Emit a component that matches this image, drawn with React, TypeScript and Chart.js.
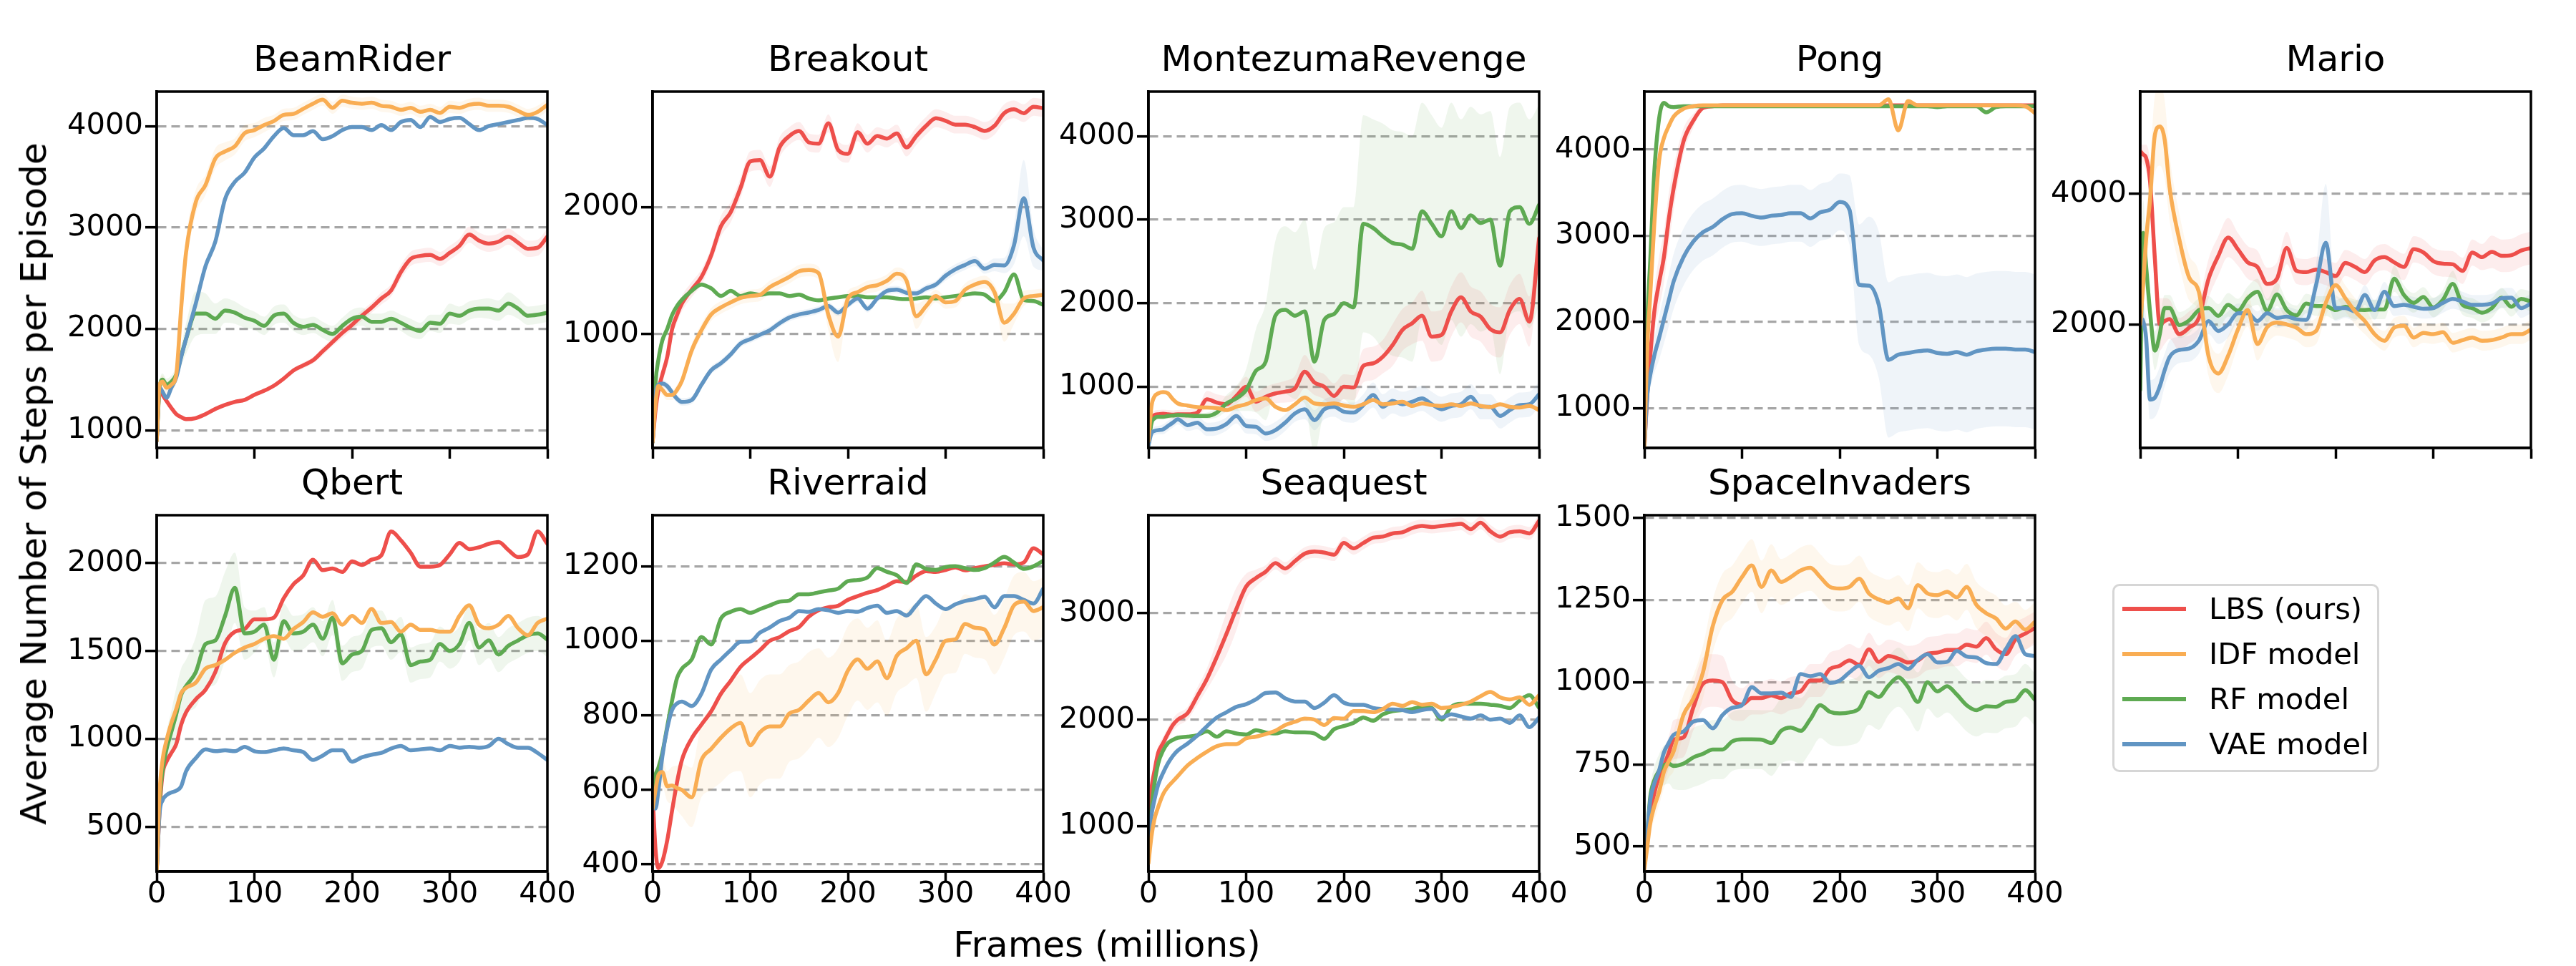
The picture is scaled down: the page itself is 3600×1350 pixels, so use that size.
import React, { useEffect, useRef } from 'react';
import { Chart, registerables } from 'chart.js';

Chart.register(...registerables);

const FONT = '"DejaVu Sans", "Liberation Sans", sans-serif';

// x positions (frames, millions)
const FRAMES = [0, 3, 6, 10, 15, 20, 25, 30,
  40, 50, 60, 70, 80, 90, 100, 110, 120, 130,
  140, 150, 160, 170, 180, 190, 200, 210, 220, 230,
  240, 250, 260, 270, 280, 290, 300, 310, 320, 330,
  340, 350, 360, 370, 380, 390, 400];
const X_TICKS = [0, 100, 200, 300, 400];

const SERIES_NAMES = ['LBS (ours)', 'IDF model', 'RF model', 'VAE model'];
const SERIES_COLORS = ['#ee4f4b', '#f9ad53', '#5eaa52', '#6195c3'];
const BAND_COLORS = ['rgba(238,79,75,0.1)', 'rgba(249,173,83,0.1)', 'rgba(94,170,82,0.1)', 'rgba(97,149,195,0.1)'];
// drawing order (0 = on top)
const SERIES_ORDER = [3, 0, 2, 1];

// ---------------- BeamRider ----------------
const beamRiderTicks = [1000, 2000, 3000, 4000];
const beamRiderLBS = [900, 1400, 1350, 1290, 1220, 1160, 1130, 1110,
  1120, 1160, 1210, 1250, 1280, 1300, 1350, 1390, 1440, 1510,
  1590, 1640, 1690, 1780, 1870, 1960, 2040, 2130, 2210, 2300,
  2380, 2560, 2690, 2720, 2730, 2690, 2750, 2820, 2930, 2870,
  2840, 2860, 2910, 2850, 2790, 2800, 2910];
const beamRiderIDF = [900, 1450, 1480, 1420, 1450, 1550, 2200, 2750,
  3250, 3420, 3680, 3750, 3800, 3930, 3960, 4010, 4050, 4110,
  4120, 4170, 4220, 4260, 4180, 4250, 4230, 4220, 4230, 4200,
  4190, 4160, 4180, 4140, 4160, 4130, 4190, 4180, 4210, 4220,
  4200, 4200, 4190, 4150, 4110, 4140, 4210];
const beamRiderRF = [900, 1420, 1500, 1450, 1480, 1550, 1730, 1900,
  2150, 2150, 2100, 2180, 2160, 2110, 2080, 2030, 2130, 2150,
  2060, 2020, 2040, 1990, 1950, 2030, 2100, 2120, 2070, 2070,
  2100, 2060, 2010, 1980, 2060, 2050, 2150, 2130, 2180, 2200,
  2200, 2180, 2250, 2200, 2130, 2140, 2160];
const beamRiderVAE = [900, 1420, 1380, 1320, 1420, 1520, 1720, 1900,
  2250, 2620, 2860, 3280, 3450, 3540, 3690, 3780, 3900, 3980,
  3910, 3910, 3950, 3870, 3900, 3960, 3990, 3990, 3960, 4010,
  3960, 4040, 4060, 3990, 4090, 4040, 4070, 4080, 4020, 3960,
  4000, 4020, 4040, 4060, 4080, 4070, 4010];
const beamRiderLBSsd = [0, 20, 20, 20, 20, 20, 20, 20,
  20, 20, 20, 20, 20, 20, 20, 20, 20, 20,
  20, 30, 30, 40, 40, 50, 50, 50, 50, 60,
  60, 70, 70, 70, 70, 70, 70, 70, 80, 80,
  80, 80, 80, 80, 80, 80, 80];
const beamRiderIDFsd = [0, 40, 60, 60, 60, 80, 150, 150,
  120, 100, 100, 90, 80, 80, 70, 70, 60, 60,
  60, 60, 60, 60, 60, 60, 60, 60, 60, 60,
  60, 60, 60, 60, 60, 60, 60, 60, 60, 60,
  60, 60, 60, 60, 60, 60, 60];
const beamRiderRFsd = [0, 40, 60, 60, 60, 80, 100, 150,
  220, 200, 150, 120, 110, 100, 90, 90, 90, 90,
  80, 80, 80, 80, 80, 80, 90, 90, 80, 80,
  80, 80, 90, 80, 80, 90, 100, 90, 90, 90,
  100, 100, 110, 100, 90, 90, 90];

// ---------------- Breakout ----------------
const breakoutTicks = [1000, 2000];
const breakoutLBS = [150, 400, 560, 680, 820, 1040, 1150, 1240,
  1350, 1450, 1620, 1850, 1960, 2150, 2360, 2370, 2240, 2470,
  2560, 2600, 2510, 2500, 2660, 2450, 2420, 2590, 2500, 2560,
  2540, 2580, 2470, 2560, 2640, 2700, 2680, 2650, 2650, 2630,
  2600, 2640, 2740, 2770, 2740, 2790, 2780];
const breakoutIDF = [150, 450, 590, 560, 520, 520, 560, 630,
  870, 1030, 1155, 1210, 1250, 1285, 1300, 1310, 1370, 1410,
  1450, 1495, 1505, 1480, 1150, 980, 1280, 1330, 1370, 1385,
  1420, 1475, 1420, 1140, 1220, 1300, 1250, 1260, 1350, 1390,
  1410, 1330, 1090, 1160, 1280, 1300, 1310];
const breakoutRF = [150, 620, 800, 950, 1040, 1150, 1220, 1270,
  1340, 1390, 1360, 1300, 1340, 1300, 1320, 1310, 1320, 1320,
  1300, 1310, 1280, 1265, 1280, 1290, 1300, 1300, 1290, 1290,
  1290, 1280, 1275, 1280, 1290, 1280, 1290, 1300, 1310, 1320,
  1310, 1260, 1330, 1470, 1270, 1260, 1230];
const breakoutVAE = [150, 520, 600, 610, 590, 540, 490, 465,
  480, 600, 715, 770, 840, 925, 960, 995, 1030, 1085,
  1130, 1155, 1170, 1190, 1220, 1170, 1230, 1280, 1200, 1280,
  1340, 1350, 1325, 1320, 1360, 1390, 1460, 1510, 1545, 1575,
  1515, 1545, 1540, 1700, 2070, 1680, 1580];
const breakoutLBSsd = [0, 40, 50, 60, 60, 60, 60, 60,
  60, 60, 60, 80, 80, 80, 80, 80, 80, 80,
  70, 70, 70, 70, 70, 70, 70, 70, 70, 70,
  70, 70, 70, 70, 70, 70, 70, 70, 70, 70,
  70, 70, 70, 70, 70, 70, 70];
const breakoutIDFsd = [0, 30, 40, 40, 40, 40, 40, 40,
  50, 50, 50, 50, 50, 50, 50, 50, 50, 50,
  50, 50, 50, 50, 120, 200, 60, 50, 50, 50,
  50, 50, 60, 100, 60, 50, 50, 50, 50, 50,
  50, 60, 150, 80, 60, 50, 50];
const breakoutVAEsd = [0, 30, 30, 30, 30, 30, 30, 30,
  30, 30, 30, 30, 30, 30, 30, 30, 30, 30,
  30, 30, 30, 30, 30, 30, 30, 30, 30, 30,
  30, 30, 30, 30, 30, 30, 40, 40, 40, 40,
  40, 50, 60, 150, 300, 150, 80];

// ---------------- MontezumaRevenge ----------------
const montezumaTicks = [1000, 2000, 3000, 4000];
const montezumaLBS = [300, 600, 660, 670, 675, 670, 665, 670,
  670, 690, 850, 810, 790, 890, 1000, 820, 880, 920,
  940, 980, 1180, 1050, 1000, 890, 1000, 990, 1250, 1280,
  1360, 1500, 1680, 1760, 1850, 1600, 1620, 1900, 2070, 1900,
  1840, 1690, 1650, 1920, 2050, 1780, 2780];
const montezumaIDF = [350, 760, 880, 920, 935, 920, 850, 800,
  775, 755, 750, 745, 720, 760, 790, 840, 860, 760,
  720, 790, 870, 800, 790, 800, 775, 760, 790, 840,
  790, 800, 820, 770, 800, 780, 770, 790, 770, 800,
  770, 755, 790, 760, 750, 770, 720];
const montezumaRF = [300, 560, 620, 640, 640, 650, 655, 660,
  655, 650, 650, 690, 800, 860, 960, 1190, 1300, 1850,
  1920, 1850, 1900, 1300, 1800, 1870, 2000, 1950, 2950, 2900,
  2800, 2720, 2700, 2650, 3100, 2950, 2800, 3100, 2900, 3050,
  2960, 3000, 2450, 3100, 3150, 2950, 3180];
const montezumaVAE = [300, 440, 470, 480, 490, 530, 570, 610,
  540, 570, 490, 500, 555, 650, 530, 520, 440, 480,
  570, 680, 730, 600, 730, 760, 700, 690, 780, 900,
  760, 830, 790, 820, 860, 790, 730, 770, 790, 880,
  760, 760, 650, 720, 780, 790, 910];
const montezumaLBSsd = [0, 40, 50, 50, 50, 50, 50, 50,
  60, 60, 100, 100, 100, 100, 120, 120, 120, 120,
  130, 150, 200, 150, 150, 150, 150, 150, 200, 200,
  200, 250, 250, 250, 300, 300, 300, 300, 300, 300,
  300, 300, 300, 300, 300, 300, 300];
const montezumaRFsd = [0, 20, 30, 30, 30, 30, 30, 30,
  30, 30, 40, 60, 100, 150, 250, 500, 700, 900,
  1000, 1000, 1100, 1100, 1100, 1100, 1150, 1200, 1300, 1300,
  1350, 1350, 1350, 1350, 1300, 1300, 1300, 1300, 1300, 1300,
  1300, 1300, 1300, 1250, 1250, 1250, 1200];
const montezumaVAEsd = [0, 40, 50, 50, 60, 60, 60, 60,
  70, 80, 80, 80, 80, 90, 90, 90, 90, 100,
  100, 100, 120, 120, 120, 120, 120, 120, 130, 150,
  150, 150, 150, 150, 150, 150, 150, 150, 150, 150,
  150, 150, 150, 150, 150, 150, 150];

// ---------------- Pong ----------------
const pongTicks = [1000, 2000, 3000, 4000];
const pongLBS = [540, 1150, 1600, 2100, 2450, 2750, 3190, 3550,
  4090, 4330, 4480, 4500, 4510, 4510, 4510, 4510, 4510, 4510,
  4510, 4510, 4510, 4510, 4510, 4510, 4510, 4510, 4510, 4510,
  4510, 4510, 4510, 4510, 4510, 4510, 4510, 4510, 4510, 4510,
  4510, 4510, 4510, 4510, 4510, 4510, 4510];
const pongIDF = [540, 1700, 2300, 3100, 3860, 4130, 4270, 4380,
  4470, 4500, 4510, 4510, 4510, 4510, 4510, 4510, 4510, 4510,
  4510, 4510, 4510, 4510, 4510, 4510, 4510, 4510, 4510, 4510,
  4510, 4580, 4220, 4560, 4510, 4510, 4510, 4510, 4510, 4510,
  4510, 4510, 4510, 4510, 4510, 4500, 4420];
const pongRF = [540, 2000, 2700, 3700, 4350, 4540, 4500, 4490,
  4500, 4500, 4500, 4500, 4500, 4500, 4500, 4500, 4500, 4500,
  4500, 4500, 4500, 4500, 4500, 4500, 4500, 4500, 4500, 4500,
  4500, 4500, 4500, 4500, 4500, 4500, 4490, 4500, 4500, 4500,
  4500, 4430, 4490, 4500, 4500, 4500, 4500];
const pongVAE = [540, 1150, 1380, 1600, 1810, 2030, 2250, 2470,
  2750, 2930, 3040, 3100, 3190, 3250, 3260, 3230, 3210, 3230,
  3240, 3260, 3260, 3200, 3270, 3300, 3390, 3300, 2430, 2420,
  2200, 1560, 1620, 1640, 1660, 1670, 1640, 1630, 1650, 1620,
  1660, 1680, 1690, 1690, 1680, 1680, 1650];
const pongLBSsd = [0, 100, 200, 250, 300, 300, 300, 250,
  150, 80, 30, 20, 20, 20, 20, 20, 20, 20,
  20, 20, 20, 20, 20, 20, 20, 20, 20, 20,
  20, 20, 20, 20, 20, 20, 20, 20, 20, 20,
  20, 20, 20, 20, 20, 20, 20];
const pongVAEsd = [0, 100, 150, 200, 250, 280, 300, 320,
  330, 330, 330, 330, 330, 330, 330, 330, 330, 330,
  330, 330, 330, 330, 330, 330, 330, 400, 700, 800,
  850, 900, 900, 900, 900, 900, 900, 900, 900, 900,
  900, 900, 900, 900, 900, 900, 900];

// ---------------- Mario ----------------
const marioTicks = [2000, 4000];
const marioLBS = [4650, 4600, 4550, 4200, 3000, 2000, 2050, 2080,
  1850, 1950, 2100, 2700, 3050, 3330, 3150, 2950, 2880, 2620,
  2700, 3170, 2820, 2800, 2840, 2800, 2740, 2940, 2880, 2800,
  2980, 3030, 2950, 2880, 3150, 3100, 2970, 2930, 2920, 2820,
  3100, 3030, 3110, 3050, 3060, 3130, 3170];
const marioIDF = [2000, 2600, 3300, 3900, 4900, 5030, 4830, 4100,
  3300, 2720, 2500, 1510, 1250, 1520, 1920, 2220, 1700, 1960,
  2030, 2000, 1950, 1850, 1900, 2330, 2600, 2400, 2200, 2050,
  1850, 1750, 1950, 1980, 1800, 1870, 1850, 1880, 1720, 1760,
  1800, 1750, 1760, 1800, 1850, 1850, 1920];
const marioRF = [1000, 3400, 2900, 2200, 1600, 1850, 2250, 2250,
  1990, 2060, 2220, 2250, 2130, 2300, 2210, 2400, 2500, 2210,
  2460, 2220, 2140, 2320, 2280, 2280, 2220, 2270, 2230, 2220,
  2230, 2230, 2700, 2450, 2330, 2420, 2260, 2380, 2620, 2300,
  2250, 2180, 2250, 2410, 2270, 2390, 2350];
const marioVAE = [2100, 2050, 1800, 850, 880, 1050, 1300, 1500,
  1610, 1630, 1750, 2050, 1900, 2000, 2170, 2170, 2050, 2170,
  2100, 2120, 2080, 2070, 2600, 3250, 2250, 2250, 2200, 2450,
  2220, 2500, 2280, 2300, 2270, 2240, 2250, 2330, 2390, 2350,
  2300, 2300, 2320, 2400, 2410, 2250, 2320];
const marioLBSsd = [100, 150, 200, 300, 400, 400, 350, 300,
  250, 250, 250, 300, 300, 300, 250, 250, 250, 250,
  250, 250, 200, 200, 200, 200, 200, 200, 200, 200,
  200, 200, 200, 200, 200, 200, 200, 200, 200, 200,
  200, 200, 250, 250, 250, 250, 250];
const marioIDFsd = [200, 300, 400, 500, 600, 600, 600, 500,
  400, 350, 300, 300, 300, 300, 250, 250, 250, 250,
  200, 200, 200, 200, 200, 200, 200, 200, 200, 200,
  150, 150, 150, 150, 150, 150, 150, 150, 150, 150,
  150, 150, 150, 150, 150, 150, 150];
const marioRFsd = [200, 500, 400, 300, 300, 250, 200, 200,
  200, 200, 180, 180, 180, 180, 180, 180, 200, 180,
  180, 150, 150, 150, 150, 150, 150, 150, 150, 150,
  150, 150, 200, 150, 150, 150, 150, 150, 200, 150,
  150, 150, 150, 150, 150, 150, 150];
const marioVAEsd = [200, 300, 300, 300, 300, 300, 250, 250,
  200, 200, 200, 200, 200, 200, 150, 150, 150, 150,
  150, 150, 150, 150, 300, 900, 200, 150, 150, 150,
  150, 150, 150, 150, 150, 150, 150, 150, 150, 150,
  150, 150, 150, 150, 150, 150, 150];

// ---------------- Qbert ----------------
const qbertTicks = [500, 1000, 1500, 2000];
const qbertLBS = [250, 600, 800, 870, 920, 970, 1080, 1150,
  1225, 1280, 1380, 1545, 1610, 1625, 1680, 1680, 1690, 1800,
  1880, 1930, 2020, 1960, 1970, 1950, 2010, 1990, 2020, 2045,
  2180, 2130, 2060, 1980, 1980, 1990, 2050, 2115, 2080, 2090,
  2110, 2120, 2075, 2035, 2050, 2180, 2110];
const qbertIDF = [250, 700, 880, 990, 1090, 1170, 1260, 1290,
  1320, 1400, 1420, 1450, 1490, 1520, 1540, 1570, 1585, 1570,
  1625, 1665, 1720, 1695, 1715, 1650, 1700, 1660, 1740, 1660,
  1665, 1610, 1650, 1620, 1620, 1610, 1610, 1700, 1760, 1650,
  1630, 1650, 1700, 1630, 1590, 1660, 1685];
const qbertRF = [250, 650, 820, 940, 1040, 1140, 1250, 1300,
  1380, 1540, 1560, 1700, 1860, 1600, 1610, 1650, 1450, 1670,
  1600, 1610, 1650, 1570, 1690, 1430, 1480, 1500, 1620, 1630,
  1550, 1595, 1420, 1440, 1450, 1540, 1500, 1540, 1660, 1520,
  1560, 1480, 1530, 1560, 1590, 1600, 1565];
const qbertVAE = [250, 580, 650, 680, 695, 705, 730, 815,
  890, 940, 930, 935, 930, 955, 930, 925, 935, 945,
  935, 925, 880, 905, 935, 935, 870, 895, 910, 920,
  945, 960, 935, 940, 945, 935, 960, 950, 955, 950,
  960, 1000, 970, 950, 950, 920, 880];
const qbertRFsd = [0, 60, 80, 100, 120, 150, 150, 150,
  200, 250, 250, 250, 200, 150, 120, 100, 100, 100,
  100, 100, 100, 100, 100, 100, 100, 100, 100, 100,
  100, 100, 100, 100, 100, 100, 100, 100, 100, 100,
  100, 100, 100, 100, 100, 100, 100];

// ---------------- Riverraid ----------------
const riverraidTicks = [400, 600, 800, 1000, 1200];
const riverraidLBS = [590, 440, 390, 408, 465, 545, 620, 680,
  738, 775, 811, 858, 893, 930, 953, 975, 1000, 1010,
  1026, 1037, 1065, 1082, 1090, 1094, 1110, 1120, 1129, 1136,
  1148, 1160, 1158, 1175, 1187, 1185, 1190, 1197, 1189, 1195,
  1200, 1204, 1208, 1205, 1210, 1248, 1232];
const riverraidIDF = [550, 600, 640, 648, 610, 612, 605, 600,
  580, 680, 710, 740, 765, 780, 720, 755, 770, 770,
  805, 815, 840, 860, 835, 860, 920, 950, 925, 945,
  900, 960, 980, 1000, 910, 950, 1000, 1004, 1045, 1035,
  1030, 990, 1034, 1095, 1105, 1080, 1090];
const riverraidRF = [590, 640, 660, 700, 770, 840, 900, 925,
  950, 1010, 990, 1060, 1078, 1085, 1075, 1085, 1095, 1105,
  1108, 1125, 1125, 1130, 1135, 1140, 1160, 1163, 1170, 1195,
  1185, 1176, 1155, 1205, 1193, 1190, 1198, 1200, 1195, 1190,
  1195, 1210, 1225, 1210, 1193, 1200, 1215];
const riverraidVAE = [570, 550, 600, 690, 765, 815, 832, 837,
  825, 858, 923, 950, 975, 997, 998, 1022, 1036, 1053,
  1062, 1080, 1078, 1085, 1082, 1075, 1080, 1078, 1088, 1094,
  1075, 1080, 1068, 1095, 1120, 1100, 1085, 1098, 1107, 1112,
  1118, 1090, 1120, 1120, 1110, 1100, 1140];
const riverraidIDFsd = [0, 30, 40, 40, 40, 50, 60, 70,
  80, 100, 110, 120, 120, 130, 140, 140, 140, 140,
  130, 130, 130, 120, 120, 120, 120, 110, 110, 110,
  100, 100, 100, 100, 100, 90, 90, 90, 80, 80,
  80, 80, 80, 80, 80, 80, 80];

// ---------------- Seaquest ----------------
const seaquestTicks = [1000, 2000, 3000];
const seaquestLBS = [1000, 1350, 1510, 1690, 1780, 1870, 1950, 2000,
  2060, 2220, 2385, 2590, 2810, 3040, 3250, 3330, 3390, 3470,
  3420, 3490, 3560, 3580, 3570, 3550, 3660, 3610, 3660, 3710,
  3720, 3750, 3760, 3800, 3820, 3810, 3820, 3830, 3840, 3790,
  3850, 3770, 3720, 3760, 3770, 3750, 3870];
const seaquestIDF = [650, 900, 1060, 1180, 1300, 1370, 1420, 1470,
  1570, 1640, 1700, 1750, 1770, 1770, 1825, 1840, 1865, 1895,
  1950, 1980, 2010, 2000, 1950, 2015, 2010, 2080, 2080, 2070,
  2100, 2150, 2130, 2165, 2140, 2150, 2110, 2120, 2140, 2170,
  2220, 2260, 2210, 2190, 2210, 2140, 2230];
const seaquestRF = [900, 1150, 1390, 1590, 1710, 1780, 1810, 1830,
  1840, 1855, 1890, 1840, 1890, 1870, 1860, 1900, 1880, 1870,
  1890, 1880, 1880, 1870, 1820, 1910, 1940, 1970, 2020, 1990,
  2050, 2080, 2090, 2100, 2120, 2110, 2000, 2120, 2150, 2150,
  2150, 2140, 2130, 2110, 2180, 2230, 2110];
const seaquestVAE = [850, 1100, 1240, 1390, 1500, 1590, 1660, 1710,
  1775, 1850, 1940, 2020, 2070, 2120, 2145, 2190, 2250, 2255,
  2200, 2170, 2170, 2110, 2160, 2230, 2160, 2140, 2140, 2110,
  2100, 2095, 2090, 2070, 2090, 2100, 2020, 2050, 2030, 2010,
  2040, 2000, 2010, 1970, 2040, 1930, 2020];
const seaquestLBSsd = [0, 50, 60, 60, 60, 60, 60, 60,
  60, 80, 100, 150, 200, 200, 120, 80, 60, 60,
  60, 60, 60, 60, 60, 60, 60, 60, 60, 60,
  60, 60, 60, 60, 60, 60, 60, 60, 60, 60,
  60, 60, 60, 60, 60, 60, 60];

// ---------------- SpaceInvaders ----------------
const spaceInvadersTicks = [500, 750, 1000, 1250, 1500];
const spaceInvadersLBS = [440, 520, 600, 660, 712, 745, 785, 825,
  832, 922, 995, 1005, 1000, 945, 932, 952, 952, 960,
  952, 966, 972, 1005, 1005, 1040, 1050, 1066, 1053, 1100,
  1062, 1080, 1072, 1060, 1066, 1087, 1090, 1098, 1098, 1114,
  1108, 1134, 1100, 1085, 1130, 1148, 1165];
const spaceInvadersIDF = [430, 500, 570, 620, 665, 727, 760, 790,
  900, 950, 1030, 1170, 1250, 1275, 1320, 1355, 1290, 1340,
  1305, 1320, 1340, 1348, 1320, 1290, 1285, 1290, 1315, 1270,
  1252, 1242, 1255, 1225, 1295, 1270, 1265, 1275, 1258, 1290,
  1235, 1210, 1194, 1163, 1185, 1160, 1184];
const spaceInvadersRF = [440, 540, 650, 700, 730, 747, 752, 745,
  752, 771, 782, 795, 795, 820, 826, 826, 825, 815,
  852, 862, 852, 888, 930, 910, 905, 908, 920, 970,
  955, 990, 1015, 985, 940, 1000, 972, 988, 962, 930,
  915, 927, 925, 940, 945, 976, 946];
const spaceInvadersVAE = [440, 540, 640, 690, 730, 786, 815, 840,
  850, 880, 885, 860, 900, 922, 930, 985, 966, 966,
  968, 955, 1025, 1018, 1025, 998, 1005, 1030, 1050, 1015,
  1035, 1043, 1055, 1040, 1068, 1085, 1060, 1062, 1095, 1078,
  1075, 1058, 1055, 1100, 1140, 1085, 1080];
const spaceInvadersLBSsd = [0, 20, 30, 40, 40, 50, 50, 60,
  60, 70, 80, 80, 80, 60, 50, 50, 50, 50,
  50, 50, 50, 50, 50, 50, 50, 50, 50, 50,
  50, 50, 50, 50, 50, 50, 50, 50, 50, 50,
  50, 50, 50, 50, 50, 50, 50];
const spaceInvadersIDFsd = [0, 20, 30, 40, 40, 50, 50, 60,
  60, 70, 80, 80, 80, 80, 80, 80, 80, 80,
  70, 70, 70, 70, 70, 70, 70, 70, 70, 70,
  70, 70, 70, 70, 70, 70, 70, 70, 70, 70,
  70, 70, 70, 70, 60, 60, 60];
const spaceInvadersRFsd = [0, 20, 30, 40, 50, 60, 60, 70,
  80, 90, 90, 90, 90, 90, 90, 90, 90, 100,
  100, 100, 100, 100, 100, 100, 100, 100, 100, 100,
  100, 90, 90, 90, 90, 80, 80, 80, 80, 80,
  80, 80, 80, 80, 80, 80, 80];

type PanelSpec = {
  title: string;
  yMin: number;
  yMax: number;
  yTicks: number[];
  series: number[][];
  spread: (number[] | null)[];
  row: number;
  col: number;
  showX: boolean;
};

const PANELS: PanelSpec[] = [
  { title: 'BeamRider', yMin: 826, yMax: 4340, yTicks: beamRiderTicks, series: [beamRiderLBS, beamRiderIDF, beamRiderRF, beamRiderVAE], spread: [beamRiderLBSsd, beamRiderIDFsd, beamRiderRFsd, null], row: 0, col: 0, showX: false },
  { title: 'Breakout', yMin: 103, yMax: 2910, yTicks: breakoutTicks, series: [breakoutLBS, breakoutIDF, breakoutRF, breakoutVAE], spread: [breakoutLBSsd, breakoutIDFsd, null, breakoutVAEsd], row: 0, col: 1, showX: false },
  { title: 'MontezumaRevenge', yMin: 267, yMax: 4533, yTicks: montezumaTicks, series: [montezumaLBS, montezumaIDF, montezumaRF, montezumaVAE], spread: [montezumaLBSsd, null, montezumaRFsd, montezumaVAEsd], row: 0, col: 2, showX: false },
  { title: 'Pong', yMin: 539, yMax: 4670, yTicks: pongTicks, series: [pongLBS, pongIDF, pongRF, pongVAE], spread: [pongLBSsd, null, null, pongVAEsd], row: 0, col: 3, showX: false },
  { title: 'Mario', yMin: 110, yMax: 5563, yTicks: marioTicks, series: [marioLBS, marioIDF, marioRF, marioVAE], spread: [marioLBSsd, marioIDFsd, marioRFsd, marioVAEsd], row: 0, col: 4, showX: false },
  { title: 'Qbert', yMin: 245, yMax: 2273, yTicks: qbertTicks, series: [qbertLBS, qbertIDF, qbertRF, qbertVAE], spread: [null, null, qbertRFsd, null], row: 1, col: 0, showX: true },
  { title: 'Riverraid', yMin: 381, yMax: 1337, yTicks: riverraidTicks, series: [riverraidLBS, riverraidIDF, riverraidRF, riverraidVAE], spread: [null, riverraidIDFsd, null, null], row: 1, col: 1, showX: true },
  { title: 'Seaquest', yMin: 573, yMax: 3921, yTicks: seaquestTicks, series: [seaquestLBS, seaquestIDF, seaquestRF, seaquestVAE], spread: [seaquestLBSsd, null, null, null], row: 1, col: 2, showX: true },
  { title: 'SpaceInvaders', yMin: 424, yMax: 1508, yTicks: spaceInvadersTicks, series: [spaceInvadersLBS, spaceInvadersIDF, spaceInvadersRF, spaceInvadersVAE], spread: [spaceInvadersLBSsd, spaceInvadersIDFsd, spaceInvadersRFsd, null], row: 1, col: 3, showX: true },
];

// layout (pixels)
const COL_LEFT = [219, 912, 1605, 2298, 2991];
const ROW_TOP = [128, 720];
const PLOT_W = 546;
const PLOT_H = 498;
const SIDE = 150;
const TOP_SPACE = 95;
const BOTTOM_SPACE = 80;
const CANVAS_W = SIDE + PLOT_W + SIDE;
const CANVAS_H = TOP_SPACE + PLOT_H + BOTTOM_SPACE;

const framePlugin = {
  id: 'frameBox',
  afterDraw(chart: any) {
    const { ctx, chartArea: a } = chart;
    ctx.save();
    ctx.strokeStyle = '#000';
    ctx.lineWidth = 3.5;
    ctx.strokeRect(a.left, a.top, a.right - a.left, a.bottom - a.top);
    ctx.restore();
  },
};

function PanelChart({ p }: { p: PanelSpec }) {
  const ref = useRef<HTMLCanvasElement | null>(null);
  useEffect(() => {
    const canvas = ref.current;
    if (!canvas) return;
    const datasets: any[] = [];
    p.series.forEach((vals, si) => {
      const sd = p.spread[si];
      if (!sd) return;
      datasets.push({
        data: FRAMES.map((x, i) => ({ x, y: vals[i] - sd[i] })),
        borderColor: 'transparent', borderWidth: 0, pointRadius: 0, fill: false,
        order: 10, cubicInterpolationMode: 'monotone',
      });
      datasets.push({
        data: FRAMES.map((x, i) => ({ x, y: vals[i] + sd[i] })),
        borderColor: 'transparent', borderWidth: 0, pointRadius: 0, fill: '-1',
        backgroundColor: BAND_COLORS[si], order: 10, cubicInterpolationMode: 'monotone',
      });
    });
    p.series.forEach((vals, si) => {
      datasets.push({
        label: SERIES_NAMES[si],
        data: FRAMES.map((x, i) => ({ x, y: vals[i] })),
        borderColor: SERIES_COLORS[si], borderWidth: 5.5, pointRadius: 0, fill: false,
        order: SERIES_ORDER[si], cubicInterpolationMode: 'monotone',
        borderJoinStyle: 'round', borderCapStyle: 'round',
      });
    });
    const chart = new Chart(canvas, {
      type: 'line',
      data: { datasets },
      options: {
        animation: false,
        responsive: false,
        devicePixelRatio: 1,
        events: [],
        layout: { padding: { top: 23.2, left: 0, right: 0, bottom: 0 } },
        plugins: {
          legend: { display: false },
          tooltip: { enabled: false },
          title: {
            display: true, text: p.title, color: '#000',
            font: { family: FONT, size: 50, weight: 'normal', lineHeight: 1.2 },
            padding: { top: 0, bottom: 11.8 },
          },
        },
        scales: {
          x: {
            type: 'linear', min: 0, max: 400,
            afterBuildTicks: (s: any) => { s.ticks = X_TICKS.map((v) => ({ value: v })); },
            afterFit: (s: any) => { s.height = BOTTOM_SPACE; },
            ticks: {
              font: { family: FONT, size: 41.7, lineHeight: 0.84 },
              color: p.showX ? '#000' : 'rgba(0,0,0,0)',
              padding: 0, maxRotation: 0, autoSkip: false,
              callback: (v: any) => String(v),
            },
            grid: { display: true, drawOnChartArea: false, drawTicks: true, tickLength: 15, tickWidth: 3.5, tickColor: '#000' },
            border: { display: true, color: '#000', width: 3.5 },
          },
          y: {
            type: 'linear', min: p.yMin, max: p.yMax,
            afterBuildTicks: (s: any) => { s.ticks = p.yTicks.map((v) => ({ value: v })); },
            afterFit: (s: any) => { s.width = SIDE; },
            ticks: {
              font: { family: FONT, size: 41.7 },
              color: '#000', padding: 3, autoSkip: false,
              callback: (v: any) => String(v),
            },
            grid: { display: true, drawOnChartArea: true, color: '#a6a6a6', lineWidth: 3.3, drawTicks: true, tickLength: 16, tickWidth: 3.5, tickColor: '#000' },
            border: { display: true, color: '#000', width: 3.5, dash: [12, 7] },
          },
          yR: {
            type: 'linear', position: 'right', min: 0, max: 1, display: true,
            ticks: { display: false },
            grid: { display: false },
            border: { display: false },
            afterFit: (s: any) => { s.width = SIDE; },
          },
        },
      } as any,
      plugins: [framePlugin],
    });
    return () => chart.destroy();
  }, [p]);

  const left = COL_LEFT[p.col] - SIDE;
  const top = ROW_TOP[p.row] - TOP_SPACE;
  return (
    <canvas
      ref={ref}
      width={CANVAS_W}
      height={CANVAS_H}
      style={{ position: 'absolute', left, top, width: CANVAS_W, height: CANVAS_H }}
    />
  );
}

const LEGEND_ROWS = [850.7, 913.7, 976.7, 1039.7];

export default function App() {
  useEffect(() => {
    document.body.style.margin = '0';
  }, []);
  return (
    <div style={{ position: 'absolute', left: 0, top: 0, width: 3600, height: 1350, background: '#fff', overflow: 'hidden', fontFamily: FONT, color: '#000' }}>
      {PANELS.map((p) => <PanelChart key={p.title} p={p} />)}
      {/* legend */}
      <div style={{ position: 'absolute', left: 2952, top: 816, width: 373, height: 263, boxSizing: 'border-box', border: '3px solid #d6d6d6', borderRadius: 10, background: '#fff' }} />
      {SERIES_NAMES.map((name, i) => (
        <React.Fragment key={name}>
          <div style={{ position: 'absolute', left: 2966, top: LEGEND_ROWS[i] - 3, width: 89, height: 6, background: SERIES_COLORS[i] }} />
          <div style={{ position: 'absolute', left: 3087, top: LEGEND_ROWS[i] - 31.5, height: 63, lineHeight: '63px', fontSize: 41.7, whiteSpace: 'nowrap' }}>{name}</div>
        </React.Fragment>
      ))}
      {/* axis labels */}
      <div style={{ position: 'absolute', left: 1547, top: 1294.7, transform: 'translateX(-50%)', fontSize: 50, lineHeight: '50px', whiteSpace: 'nowrap' }}>Frames (millions)</div>
      <div style={{ position: 'absolute', left: 47, top: 676, transform: 'translate(-50%, -50%) rotate(-90deg)', fontSize: 50, lineHeight: '50px', whiteSpace: 'nowrap' }}>Average Number of Steps per Episode</div>
    </div>
  );
}
